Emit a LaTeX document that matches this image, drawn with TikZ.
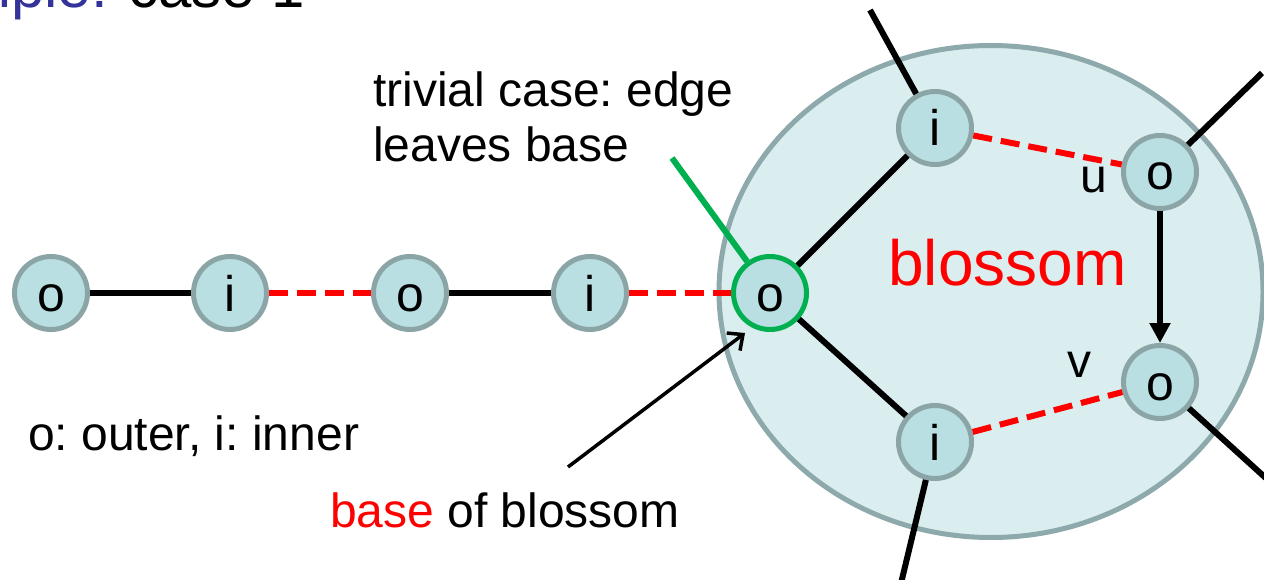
\documentclass[tikz,border=0pt]{standalone}
\usepackage{fontspec}
\setmainfont{Liberation Sans}
\frenchspacing
\usetikzlibrary{arrows.meta,shapes.geometric}
\definecolor{nodefill}{HTML}{B9DFE3}
\definecolor{nodeline}{HTML}{8BA5A7}
\definecolor{blosfill}{HTML}{DAEDEF}
\definecolor{blosline}{HTML}{8EA9AB}
\definecolor{grn}{HTML}{00B050}
\definecolor{ttl}{HTML}{333399}
\begin{document}
\begin{tikzpicture}[x=1pt,y=1pt,
  vtx/.style={circle,draw=nodeline,fill=nodefill,line width=5pt,minimum size=73pt,inner sep=0pt,text height=36pt,text depth=0pt,font=\fontsize{50}{50}\selectfont},
  lbl/.style={inner sep=0pt,font=\fontsize{48}{48}\selectfont},
  edge/.style={line width=6pt,black},
  redge/.style={line width=6pt,red,dash pattern=on 19pt off 9pt}]
\clip (0,0) rectangle (1264,-580);
\fill[white] (0,0) rectangle (1264,-580);
% title (cut off)
\node[lbl,font=\fontsize{60}{60}\selectfont,anchor=base west] (t2) at (128,-8) {case 1};
\node[lbl,font=\fontsize{60}{60}\selectfont,text=ttl,anchor=base east] (t1) at (108,-8) {Example:};
% blossom
\node[ellipse,draw=blosline,fill=blosfill,line width=5pt,minimum width=544pt,minimum height=492pt,inner sep=0pt] (blossom) at (991,-291.5) {};
% vertices
\node[vtx] (a1) at (51,-293) {o};
\node[vtx] (a2) at (230,-293) {i};
\node[vtx] (a3) at (410,-293) {o};
\node[vtx] (a4) at (590,-293) {i};
\node[vtx,draw=grn] (b) at (770,-293) {o};
\node[vtx] (ti) at (935,-128) {i};
\node[vtx] (u) at (1160,-172) {o};
\node[vtx] (v) at (1160,-382) {o};
\node[vtx] (bi) at (935,-442) {i};
% free ends
\coordinate (e1) at (870,-10);
\coordinate (e2) at (1262,-73);
\coordinate (e3) at (1290,-500);
\coordinate (e4) at (897,-600);
\coordinate (g) at (672,-158);
\coordinate (bs) at (568,-467);
\coordinate (be) at (745,-333);
% edges
\draw[edge] (a1) -- (a2);
\draw[redge] (a2) -- (a3);
\draw[edge] (a3) -- (a4);
\draw[redge] (a4) -- (b);
\draw[edge] (b) -- (ti);
\draw[edge] (b) -- (bi);
\draw[redge] (ti) -- (u);
\draw[redge] (bi) -- (v);
\draw[edge,-{Triangle[length=20pt,width=20pt]}] (u) -- (v);
\draw[edge] (ti) -- (e1);
\draw[edge] (u) -- (e2);
\draw[edge] (v) -- (e3);
\draw[edge] (bi) -- (e4);
\draw[grn,line width=6pt] (g) -- (b);
\draw[line width=3.5pt,-{Straight Barb[length=12pt,width=22pt]}] (bs) -- (be);
% labels
\node[lbl,anchor=base west] (tc1) at (373,-107) {trivial case: edge};
\node[lbl,anchor=base west] (tc2) at (373,-162) {leaves base};
\node[lbl,anchor=base west] (leg) at (28,-450) {o: outer, i: inner};
\node[lbl,anchor=base west] (bob) at (330,-527) {\textcolor{red}{base} of blossom};
\node[lbl,font=\fontsize{64}{64}\selectfont,text=red,anchor=base west] (bl) at (888,-285) {blossom};
\node[lbl,anchor=base] (lu) at (1094,-193) {u};
\node[lbl,anchor=base] (lv) at (1079,-377) {v};
\end{tikzpicture}
\end{document}
